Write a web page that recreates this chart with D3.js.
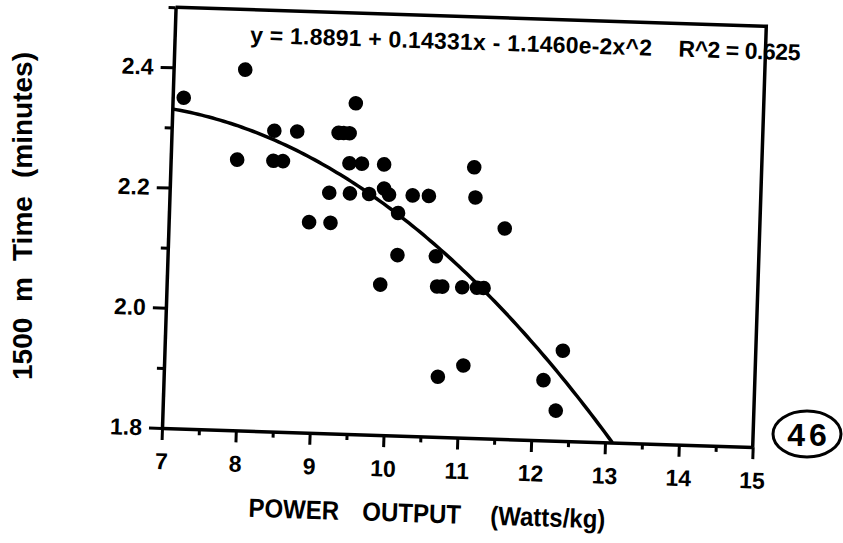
<!DOCTYPE html>
<html>
<head>
<meta charset="utf-8">
<script src="https://cdn.jsdelivr.net/npm/d3@7"></script>
<style>
  html, body { margin: 0; padding: 0; background: #fff; }
  svg { display: block; }
  text { font-family: "Liberation Sans", Arial, Helvetica, sans-serif; font-weight: bold; fill: #000; }
</style>
</head>
<body>
<svg id="chart" width="843" height="543"></svg>
<script>
// ---- data ----
const powerOutput = [7.15, 7.97, 9.48, 8.39, 8.70, 9.26, 9.33, 9.41, 7.90, 8.39,
                     8.52, 9.42, 9.59, 9.89, 11.11, 9.16, 9.44, 9.70, 9.90, 9.97,
                     10.29, 10.51, 11.14, 10.10, 8.90, 9.19, 11.55, 10.11, 10.63, 9.89,
                     10.66, 10.73, 11.00, 11.20, 11.29, 12.39, 11.05, 10.71, 12.14, 12.32];
const time1500 = [2.35, 2.40, 2.35, 2.30, 2.30, 2.30, 2.30, 2.30, 2.25, 2.25,
                  2.25, 2.25, 2.25, 2.25, 2.25, 2.20, 2.20, 2.20, 2.21, 2.20,
                  2.20, 2.20, 2.20, 2.17, 2.15, 2.15, 2.15, 2.10, 2.10, 2.05,
                  2.05, 2.05, 2.05, 2.05, 2.05, 1.95, 1.92, 1.90, 1.90, 1.85];
const xTickLabels = [7, 8, 9, 10, 11, 12, 13, 14, 15];
const yTickLabels = [1.8, 2.0, 2.2, 2.4];
const fitCoefficients = [1.8891, 0.14331, -0.011460];   // y = a + b x + c x^2
const equationText = "y = 1.8891 + 0.14331x - 1.1460e-2x^2";
const r2Text = "R^2 = 0.625";
const xTitleWords = ["POWER", "OUTPUT", "(Watts/kg)"];
const yTitleWords = ["1500", "m", "Time", "(minutes)"];
const pageNumber = "46";

// ---- layout ----
const svg = d3.select("#chart");
svg.append("rect").attr("width", 843).attr("height", 543).attr("fill", "#fff");

const left = 162, bottom = 428, plotW = 591, plotH = 421;
const x = d3.scaleLinear().domain([7, 15]).range([left, left + plotW]);
const y = d3.scaleLinear().domain([1.8, 2.5]).range([bottom, bottom - plotH]);

// scanned page is slightly rotated
const g = svg.append("g").attr("transform", `rotate(1.85, ${left}, ${bottom})`);

// frame (top and right edges)
g.append("path")
  .attr("d", `M${x(7)},${y(2.5)} L${x(15)},${y(2.5)} L${x(15)},${y(1.8)}`)
  .attr("fill", "none").attr("stroke", "#000").attr("stroke-width", 3.5)
  .attr("stroke-linejoin", "miter");

// x axis
const xAxis = d3.axisBottom(x)
  .tickValues(d3.range(14, 31).map(v => v / 2))
  .tickSize(12).tickSizeOuter(0).tickPadding(13)
  .tickFormat(d => Number.isInteger(d) ? d3.format("d")(d) : "");
const gx = g.append("g").attr("transform", `translate(0,${bottom})`).call(xAxis);
gx.selectAll(".tick line").attr("stroke-width", 3)
  .filter(d => !Number.isInteger(d)).attr("y2", 6);
gx.select(".domain").attr("stroke-width", 3.5);
gx.selectAll("text").attr("font-size", 23).attr("font-weight", "bold")
  .attr("font-family", "Liberation Sans, Arial, sans-serif");

// y axis
const yAxis = d3.axisLeft(y)
  .tickValues(d3.range(18, 26).map(v => v / 10))
  .tickSize(13).tickSizeOuter(0).tickPadding(7)
  .tickFormat(d => yTickLabels.some(t => Math.abs(t - d) < 1e-9) ? d3.format(".1f")(d) : "");
const gy = g.append("g").attr("transform", `translate(${left},0)`).call(yAxis);
gy.selectAll(".tick line").attr("stroke-width", 3)
  .filter(d => !yTickLabels.some(t => Math.abs(t - d) < 1e-9)).attr("x2", -7);
gy.select(".domain").attr("stroke-width", 3.5);
gy.selectAll("text").attr("font-size", 23).attr("font-weight", "bold")
  .attr("font-family", "Liberation Sans, Arial, sans-serif");

// fitted curve from the printed equation
const fit = v => fitCoefficients[0] + fitCoefficients[1] * v + fitCoefficients[2] * v * v;
const xEnd = (-fitCoefficients[1] - Math.sqrt(fitCoefficients[1] ** 2 - 4 * fitCoefficients[2] * (fitCoefficients[0] - 1.8))) / (2 * fitCoefficients[2]);
const curveX = d3.range(7, xEnd, 0.05).concat([xEnd]);
g.append("path")
  .datum(curveX)
  .attr("d", d3.line().x(d => x(d)).y(d => y(fit(d))))
  .attr("fill", "none").attr("stroke", "#000").attr("stroke-width", 3.5);

// points
g.append("g").selectAll("circle")
  .data(powerOutput.map((p, i) => [p, time1500[i]]))
  .join("circle")
  .attr("cx", d => x(d[0])).attr("cy", d => y(d[1])).attr("r", 7.3)
  .attr("fill", "#000");

// equation
g.append("text").attr("x", 237.5).attr("y", 40).attr("font-size", 23)
  .attr("textLength", 402).attr("lengthAdjust", "spacing").text(equationText);
g.append("text").attr("x", 666).attr("y", 40).attr("font-size", 23)
  .attr("textLength", 122).attr("lengthAdjust", "spacing").text(r2Text);

// x title
const xTitleStarts = [251, 365, 493];
xTitleWords.forEach((w, i) => {
  g.append("text")
    .attr("transform", `translate(${xTitleStarts[i]},514) scale(1,1.1)`)
    .attr("font-size", 24).text(w);
});

// y title (upright on the page)
const yTitleStarts = [380, 302, 261, 178];
const yt = svg.append("g").attr("transform", "translate(32,0) rotate(-90)");
yTitleWords.forEach((w, i) => {
  yt.append("text").attr("x", -yTitleStarts[i]).attr("y", 0).attr("font-size", 28).text(w);
});

// circled page number
svg.append("ellipse").attr("cx", 807).attr("cy", 434).attr("rx", 34).attr("ry", 23)
  .attr("fill", "none").attr("stroke", "#000").attr("stroke-width", 3);
svg.append("text").attr("x", 809).attr("y", 446).attr("text-anchor", "middle")
  .attr("font-size", 32).attr("letter-spacing", 4).text(pageNumber);
</script>
</body>
</html>
